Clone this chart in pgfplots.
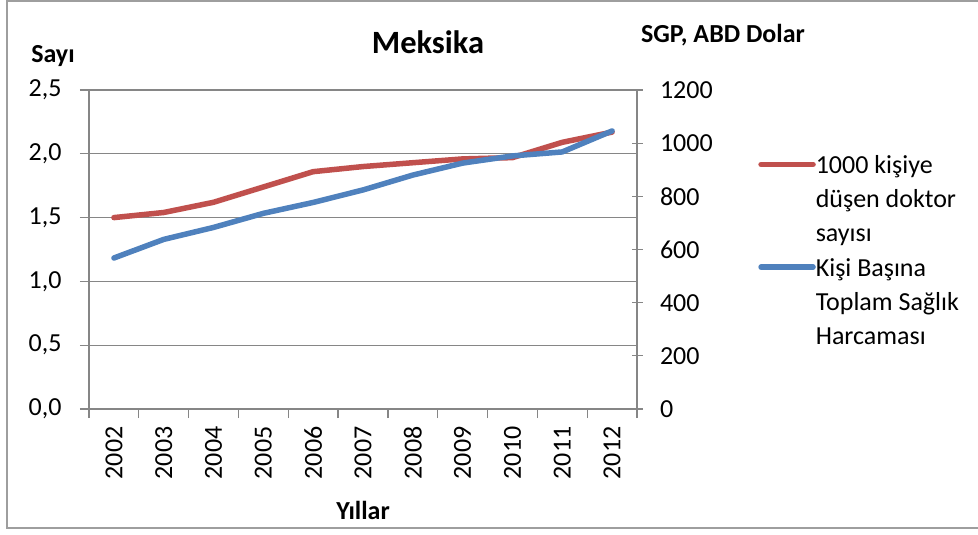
\documentclass[border=0pt]{standalone}
\usepackage{pgfplots}
\pgfplotsset{compat=1.18}
\usepackage{fontspec}
\setmainfont{Carlito}
\definecolor{xlred}{HTML}{C0504D}
\definecolor{xlblue}{HTML}{4F81BD}
\definecolor{xlgray}{HTML}{868686}

\newcommand{\fs}{\fontsize{26}{33}\selectfont}

\pgfplotsset{
    twin/.style={
        scale only axis,
        width=548pt, height=319pt,
        xmin=-0.5, xmax=10.5,
        axis line style={xlgray, line width=1.2pt},
        tick style={xlgray, line width=1.2pt},
        every tick label/.append style={font=\fs, text=black},
        /pgf/number format/assume math mode=true,
    },
}

\begin{document}
\begin{tikzpicture}
\useasboundingbox (-89pt,-126pt) rectangle (889pt,409pt);
\draw[xlgray!80, line width=1.5pt] (950pt,-119pt) -- (-82pt,-119pt) -- (-82pt,408pt) -- (950pt,408pt);

% left axis: doctors per 1000
\begin{axis}[twin,
    ymin=0, ymax=2.5,
    ytick={0,0.5,...,2.5},
    axis x line*=bottom,
    axis y line*=left,
    ymajorgrids,
    grid style={xlgray, line width=1.2pt},
    yticklabel style={xshift=-15pt, /pgf/number format/.cd, fixed, fixed zerofill, precision=1, use comma},
    major tick length=9pt,
    tick align=outside,
    xtick={0,...,10},
    xticklabels={2002,2003,2004,2005,2006,2007,2008,2009,2010,2011,2012},
    major x tick style={draw=none},
    minor xtick={-0.5,0.5,...,10.5},
    minor tick length=9pt,
    minor x tick style={xlgray, line width=1.2pt},
    xticklabel style={rotate=90, anchor=east},
    xticklabel shift=5pt,
    xtick pos=bottom, ytick pos=left,
    xlabel={\bfseries Yıllar},
    xlabel style={font=\fs, at={(axis description cs:0.5,0)}, anchor=center, yshift=-101pt},
]
\addplot[xlred, line width=5.5pt, line cap=round, line join=round] coordinates {
    (0,1.50) (1,1.54) (2,1.62) (3,1.74) (4,1.86) (5,1.90)
    (6,1.93) (7,1.96) (8,1.97) (9,2.09) (10,2.17)
};
\end{axis}

% right axis: health expenditure per capita
\begin{axis}[twin,
    ymin=0, ymax=1200,
    ytick={0,200,...,1200},
    axis x line=none,
    axis y line*=right,
    ytick pos=right,
    major tick length=11pt,
    tick align=center,
    yticklabel style={xshift=14pt, /pgf/number format/1000 sep={}},
    legend style={
        at={(1.221,0.811)}, anchor=north west,
        draw=none, fill=none,
        font=\fs,
        cells={anchor=base west},
        nodes={text height=23pt, text depth=11.2pt, inner sep=0pt},
        row sep=0pt, inner sep=0pt,
    },
    legend image code/.code={\draw[#1, line cap=round] (0pt,9pt) -- (52pt,9pt);},
]
\addlegendimage{xlred, line width=5.5pt}
\addlegendimage{empty legend}
\addlegendimage{empty legend}
\addplot[xlblue, line width=5.5pt, line cap=round, line join=round] coordinates {
    (0,568) (1,638) (2,683) (3,736) (4,777) (5,824)
    (6,880) (7,925) (8,952) (9,967) (10,1046)
};
\addlegendimage{empty legend}
\addlegendimage{empty legend}
\legend{1000 kişiye, düşen doktor, sayısı,
        Kişi Başına, Toplam Sağlık, Harcaması}
\end{axis}

\node[font=\fontsize{32.5}{36}\selectfont\bfseries] at (339pt,367pt) {Meksika};
\node[font=\fs\bfseries] at (-36pt,353pt) {Sayı};
\node[font=\fs\bfseries] at (634pt,374pt) {SGP, ABD Dolar};
\end{tikzpicture}
\end{document}
